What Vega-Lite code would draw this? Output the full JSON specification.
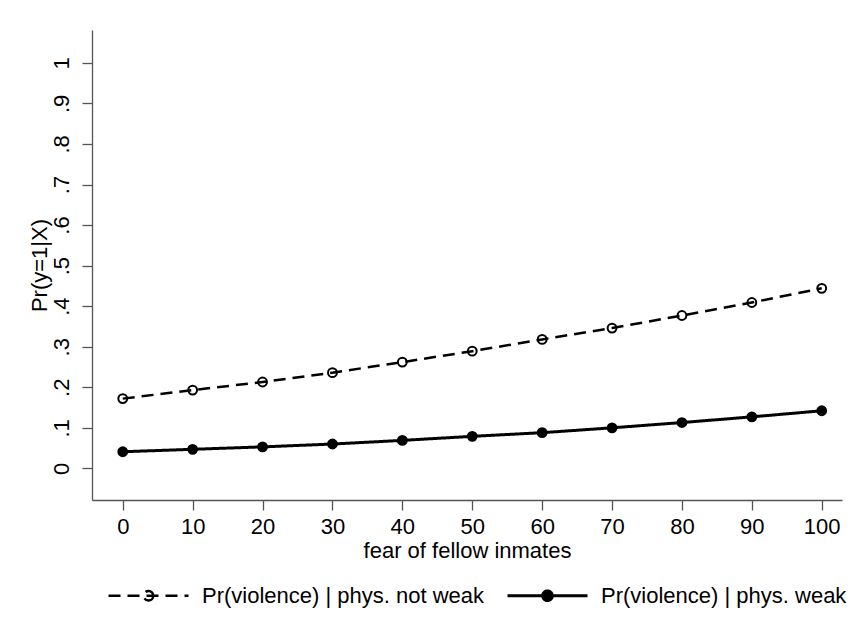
{
  "$schema": "https://vega.github.io/schema/vega-lite/v6.json",
  "width": 750,
  "height": 470,
  "autosize": {"type": "none"},
  "padding": {"left": 92, "top": 30, "right": 22, "bottom": 136},
  "background": "white",
  "config": {
    "view": {"stroke": null},
    "font": "Liberation Sans",
    "axis": {
      "grid": false,
      "tickSize": 10,
      "tickColor": "#555555",
      "tickWidth": 1.3,
      "domainColor": "#555555",
      "domainWidth": 1.3,
      "labelFontSize": 22,
      "labelColor": "black",
      "labelFont": "Liberation Sans",
      "titleFont": "Liberation Sans",
      "titleFontSize": 22,
      "titleFontWeight": "normal",
      "titleColor": "black",
      "labelOverlap": false,
      "labelFlush": false
    }
  },
  "data": {
    "values": [
      {"fear": 0, "p": 0.172, "series": "Pr(violence) | phys. not weak"},
      {"fear": 10, "p": 0.193, "series": "Pr(violence) | phys. not weak"},
      {"fear": 20, "p": 0.213, "series": "Pr(violence) | phys. not weak"},
      {"fear": 30, "p": 0.236, "series": "Pr(violence) | phys. not weak"},
      {"fear": 40, "p": 0.262, "series": "Pr(violence) | phys. not weak"},
      {"fear": 50, "p": 0.289, "series": "Pr(violence) | phys. not weak"},
      {"fear": 60, "p": 0.318, "series": "Pr(violence) | phys. not weak"},
      {"fear": 70, "p": 0.346, "series": "Pr(violence) | phys. not weak"},
      {"fear": 80, "p": 0.377, "series": "Pr(violence) | phys. not weak"},
      {"fear": 90, "p": 0.409, "series": "Pr(violence) | phys. not weak"},
      {"fear": 100, "p": 0.444, "series": "Pr(violence) | phys. not weak"},
      {"fear": 0, "p": 0.041, "series": "Pr(violence) | phys. weak"},
      {"fear": 10, "p": 0.047, "series": "Pr(violence) | phys. weak"},
      {"fear": 20, "p": 0.053, "series": "Pr(violence) | phys. weak"},
      {"fear": 30, "p": 0.060, "series": "Pr(violence) | phys. weak"},
      {"fear": 40, "p": 0.069, "series": "Pr(violence) | phys. weak"},
      {"fear": 50, "p": 0.079, "series": "Pr(violence) | phys. weak"},
      {"fear": 60, "p": 0.088, "series": "Pr(violence) | phys. weak"},
      {"fear": 70, "p": 0.100, "series": "Pr(violence) | phys. weak"},
      {"fear": 80, "p": 0.113, "series": "Pr(violence) | phys. weak"},
      {"fear": 90, "p": 0.127, "series": "Pr(violence) | phys. weak"},
      {"fear": 100, "p": 0.142, "series": "Pr(violence) | phys. weak"}
    ]
  },
  "encoding": {
    "x": {
      "field": "fear",
      "type": "quantitative",
      "scale": {"domain": [-4.4, 102.9], "nice": false, "zero": false},
      "axis": {
        "title": "fear of fellow inmates",
        "values": [0, 10, 20, 30, 40, 50, 60, 70, 80, 90, 100],
        "labelPadding": 6,
        "titlePadding": 3
      }
    },
    "y": {
      "field": "p",
      "type": "quantitative",
      "scale": {"domain": [-0.078, 1.081], "nice": false, "zero": false},
      "axis": {
        "title": "Pr(y=1|X)",
        "values": [0, 0.1, 0.2, 0.3, 0.4, 0.5, 0.6, 0.7, 0.8, 0.9, 1],
        "labelAngle": -90,
        "labelAlign": "center",
        "labelBaseline": "alphabetic",
        "labelPadding": 14,
        "titlePadding": -1,
        "labelExpr": "datum.value == 0 ? '0' : (datum.value == 1 ? '1' : replace(format(datum.value, '.1f'), '0.', '.'))"
      }
    }
  },
  "layer": [
    {
      "mark": {"type": "line", "color": "black"},
      "encoding": {
        "strokeDash": {
          "field": "series",
          "type": "nominal",
          "scale": {
            "domain": ["Pr(violence) | phys. not weak", "Pr(violence) | phys. weak"],
            "range": [[12, 7], [1, 0]]
          },
          "legend": {
            "orient": "none",
            "legendX": 15,
            "legendY": 524,
            "direction": "horizontal",
            "title": null,
            "symbolType": "M-1,0L1,0M0.12,0A0.12,0.12 0 1,1 -0.12,0A0.12,0.12 0 1,1 0.12,0Z",
            "symbolSize": 6400,
            "symbolStrokeWidth": 2.5,
            "symbolStrokeColor": "black",
            "labelFontSize": 22,
            "labelFont": "Liberation Sans",
            "labelColor": "black",
            "labelOffset": 12,
            "columnPadding": 16,
            "labelLimit": 400
          }
        },
        "strokeWidth": {
          "field": "series",
          "type": "nominal",
          "scale": {
            "domain": ["Pr(violence) | phys. not weak", "Pr(violence) | phys. weak"],
            "range": [2.5, 3]
          },
          "legend": null
        }
      }
    },
    {
      "mark": {"type": "point", "shape": "circle", "stroke": "black", "strokeWidth": 2, "opacity": 1, "size": 78},
      "encoding": {
        "fill": {
          "field": "series",
          "type": "nominal",
          "scale": {
            "domain": ["Pr(violence) | phys. not weak", "Pr(violence) | phys. weak"],
            "range": ["transparent", "black"]
          },
          "legend": {
            "orient": "none",
            "legendX": 15,
            "legendY": 524,
            "direction": "horizontal",
            "title": null,
            "symbolType": "M-1,0L1,0M0.12,0A0.12,0.12 0 1,1 -0.12,0A0.12,0.12 0 1,1 0.12,0Z",
            "symbolSize": 6400,
            "symbolStrokeWidth": 2.5,
            "symbolStrokeColor": "black",
            "labelFontSize": 22,
            "labelFont": "Liberation Sans",
            "labelColor": "black",
            "labelOffset": 12,
            "columnPadding": 16,
            "labelLimit": 400
          }
        }
      }
    }
  ]
}
